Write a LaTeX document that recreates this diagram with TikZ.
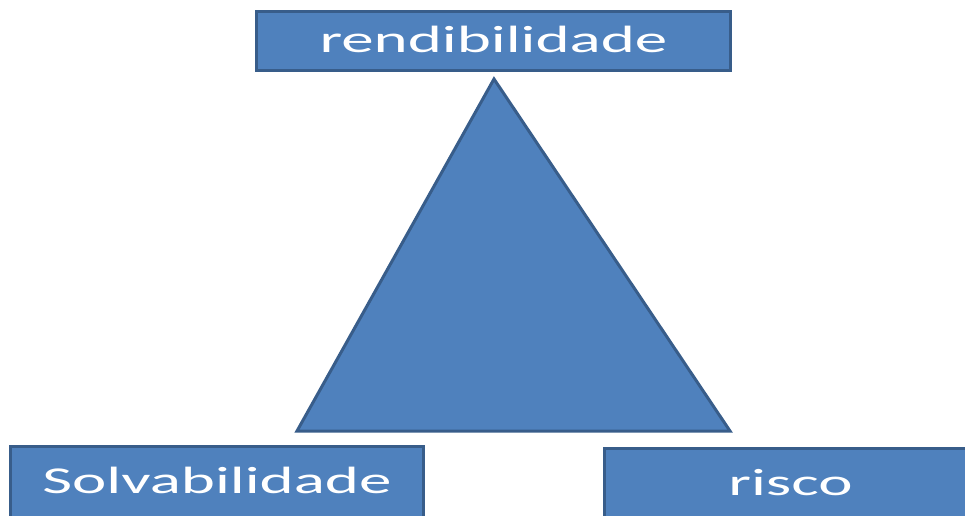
\documentclass[tikz,border=0pt]{standalone}
\usepackage{fontspec}
\setmainfont{Carlito}
\usepackage{graphicx}

\definecolor{boxfill}{HTML}{4F81BD}
\definecolor{boxline}{HTML}{385D8A}
\newcommand{\wide}[1]{\scalebox{1.71}[1]{#1}}

\begin{document}
\begin{tikzpicture}[x=1pt,y=-1pt,
  every node/.style={draw=boxline,fill=boxfill,line width=3pt,text=white,inner sep=0pt,
    font=\fontsize{38}{40}\selectfont}]
\useasboundingbox (0,0) rectangle (965,515);

\coordinate (top) at (494,79);
\coordinate (left) at (297,431);
\coordinate (right) at (730,431);
\draw[draw=boxline,fill=boxfill,line width=3pt,line join=miter] (top) -- (left) -- (right) -- cycle;

\node[minimum width=474pt,minimum height=59pt,text height=26pt,text depth=4pt] (rend) at (493.5,41) {\wide{rendibilidade}};
\node[anchor=north,minimum width=413pt,minimum height=90pt,text height=26pt,text depth=22pt] (solv) at (217,444.5) {\wide{Solvabilidade}};
\node[anchor=north,minimum width=372pt,minimum height=90pt,text height=26pt,text depth=22pt] (risco) at (790.5,446.5) {\wide{risco}};
\end{tikzpicture}
\end{document}
